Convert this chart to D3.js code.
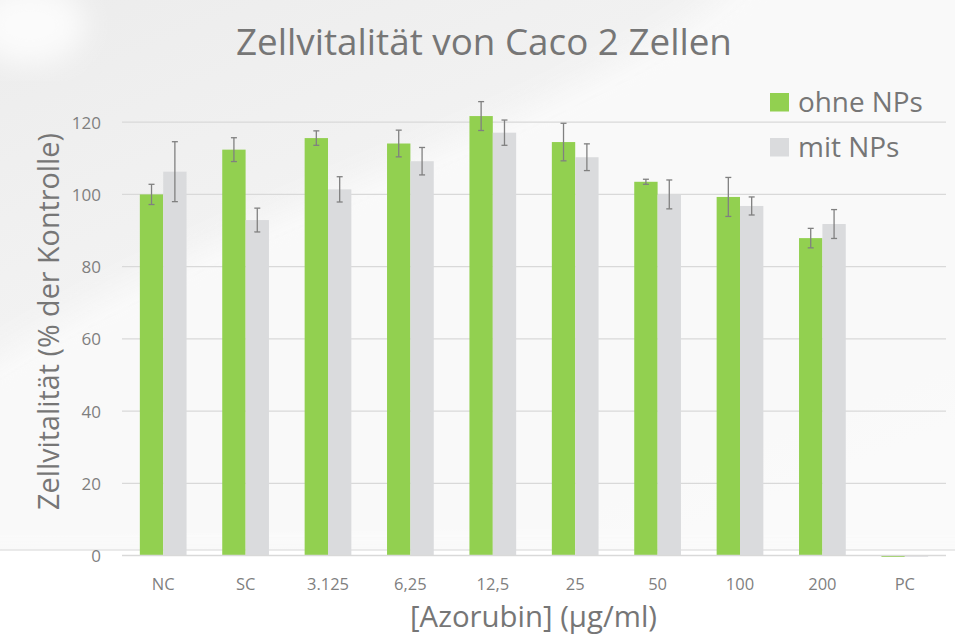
<!DOCTYPE html>
<html><head><meta charset="utf-8">
<script src="https://cdn.jsdelivr.net/npm/d3@7"></script>
<style>html,body{margin:0;padding:0;background:#fff;}svg{display:block;}</style>
</head><body>
<svg id="c" width="955" height="635"></svg>
<script>
const categories = ["NC","SC","3.125","6,25","12,5","25","50","100","200","PC"];
const seriesNames = ["ohne NPs","mit NPs"];
const ohneNPs = [100, 112.4, 115.6, 114.1, 121.7, 114.5, 103.5, 99.3, 87.9, -0.4];
const ohneErr = [2.8, 3.3, 2.0, 3.7, 4.0, 5.2, 0.7, 5.4, 2.7, 0];
const mitNPs  = [106.3, 92.9, 101.4, 109.2, 117.1, 110.3, 100.0, 96.8, 91.8, -0.3];
const mitErr  = [8.3, 3.3, 3.5, 3.8, 3.5, 3.7, 4.0, 2.5, 4.0, 0];
const yTicks = [0, 20, 40, 60, 80, 100, 120];
const titleText = "Zellvitalität von Caco 2 Zellen";
const xTitle = "[Azorubin] (µg/ml)";
const yTitle = "Zellvitalität (% der Kontrolle)";

const colors = ["#92d050", "#dadbdd"];
const textCol = "#767676";
const FONT = "'Open Sans', 'DejaVu Sans', sans-serif";

const svg = d3.select("#c");
const W = 955, H = 635;

// background (slide)
const defs = svg.append("defs");
const lg = defs.append("linearGradient").attr("id","bg").attr("x1","0").attr("y1","0").attr("x2","0.6").attr("y2","1");
lg.append("stop").attr("offset","0").attr("stop-color","#ececec");
lg.append("stop").attr("offset","0.45").attr("stop-color","#f3f3f3");
lg.append("stop").attr("offset","1").attr("stop-color","#fbfbfb");
const blur = defs.append("filter").attr("id","bl").attr("x","-20%").attr("y","-20%").attr("width","140%").attr("height","140%");
blur.append("feGaussianBlur").attr("stdDeviation", 14);
svg.append("rect").attr("width",W).attr("height",H).attr("fill","url(#bg)");
svg.append("path").attr("d","M -40 380 C 150 250, 420 160, 560 90 S 700 10, 760 -40 L 1000 -40 L 1000 560 L -40 560 Z")
  .attr("fill","#fafafa").attr("filter","url(#bl)").attr("opacity",0.9);
svg.append("ellipse").attr("cx",30).attr("cy",25).attr("rx",55).attr("ry",40).attr("fill","#fbfbfb").attr("filter","url(#bl)");
svg.append("rect").attr("x",0).attr("y",550).attr("width",W).attr("height",H-550).attr("fill","#ffffff");
svg.append("line").attr("x1",0).attr("x2",W).attr("y1",550).attr("y2",550).attr("stroke","#e3e3e3").attr("stroke-width",1.5);

// scales
const x0 = d3.scaleBand().domain(categories).range([122, 946]).paddingInner(0.433).paddingOuter(0.2165);
const x1 = d3.scaleBand().domain(seriesNames).range([0, x0.bandwidth()]).padding(0);
const y = d3.scaleLinear().domain([0, 120]).range([555.5, 122.2]);

// gridlines
const grid = svg.append("g").attr("class","grid");
grid.selectAll("line").data(yTicks.filter(d=>d>0)).join("line")
  .attr("x1",122).attr("x2",946).attr("y1",d=>y(d)).attr("y2",d=>y(d))
  .attr("stroke","#d9d9d9").attr("stroke-width",1.3);

// y axis labels
const yAxis = d3.axisLeft(y).tickValues(yTicks).tickSize(0).tickPadding(0).tickFormat(d3.format("d"));
const yg = svg.append("g").attr("transform","translate(101,0)").call(yAxis);
yg.select(".domain").remove();
yg.selectAll("text").attr("fill","#7f7f7f").attr("font-family",FONT).attr("font-size",17).attr("dy","0.36em");

// bars
const series = [
  {name: seriesNames[0], vals: ohneNPs, err: ohneErr, color: colors[0]},
  {name: seriesNames[1], vals: mitNPs, err: mitErr, color: colors[1]}
];
const rows = [];
series.forEach(s => categories.forEach((c,i) => rows.push({cat:c, s:s.name, v:s.vals[i], e:s.err[i], color:s.color})));

svg.append("g").selectAll("rect").data(rows).join("rect")
  .attr("x", d => x0(d.cat) + x1(d.s))
  .attr("width", x1.bandwidth())
  .attr("y", d => y(Math.max(0, d.v)))
  .attr("height", d => Math.max(1.2, Math.abs(y(d.v) - y(0))))
  .attr("fill", d => d.color);

// x axis line
svg.append("line").attr("x1",122).attr("x2",946).attr("y1",y(0)).attr("y2",y(0))
  .attr("stroke","#d9d9d9").attr("stroke-width",1.6);

// error bars
const eb = svg.append("g").attr("stroke","#808080").attr("stroke-width",1.3).attr("fill","none");
rows.filter(d => d.e > 0).forEach(d => {
  const cx = x0(d.cat) + x1(d.s) + x1.bandwidth()/2;
  const yt = y(d.v + d.e), yb = y(d.v - d.e);
  eb.append("line").attr("x1",cx).attr("x2",cx).attr("y1",yt).attr("y2",yb);
  eb.append("line").attr("x1",cx-3).attr("x2",cx+3).attr("y1",yt).attr("y2",yt);
  eb.append("line").attr("x1",cx-3).attr("x2",cx+3).attr("y1",yb).attr("y2",yb);
});

// x axis labels
const xAxis = d3.axisBottom(x0).tickSize(0).tickPadding(0);
const xg = svg.append("g").attr("transform","translate(0,590)").call(xAxis);
xg.select(".domain").remove();
xg.selectAll("text").attr("fill","#7f7f7f").attr("font-family",FONT).attr("font-size",16.5).attr("dy",0);

function fit(sel, target){
  const n = sel.node();
  const fs = parseFloat(sel.attr("font-size"));
  const w = n.getComputedTextLength();
  if (w > 0) sel.attr("font-size", fs * target / w);
  return sel;
}

// title
const t = svg.append("text").attr("x",484).attr("y",55).attr("text-anchor","middle")
  .attr("font-family",FONT).attr("font-size",32).attr("fill",textCol).text(titleText);
fit(t, 496);

// axis titles
const xt = svg.append("text").attr("x",533.5).attr("y",627).attr("text-anchor","middle")
  .attr("font-family",FONT).attr("font-size",24).attr("fill",textCol).text(xTitle);
fit(xt, 247);
const yt = svg.append("text").attr("transform","translate(59,321.5) rotate(-90)").attr("text-anchor","middle")
  .attr("font-family",FONT).attr("font-size",24).attr("fill",textCol).text(yTitle);
fit(yt, 377);

// legend
const leg = svg.append("g");
series.forEach((s,i) => {
  const gy = 93 + i*45;
  leg.append("rect").attr("x",770).attr("y",gy).attr("width",19).attr("height",18.5).attr("fill",s.color);
  const lt = leg.append("text").attr("x",798).attr("y",gy+18.5).attr("font-family",FONT).attr("font-size",24)
    .attr("fill",textCol).text(s.name);
  fit(lt, i===0 ? 125 : 101.5);
});
</script>
</body></html>
